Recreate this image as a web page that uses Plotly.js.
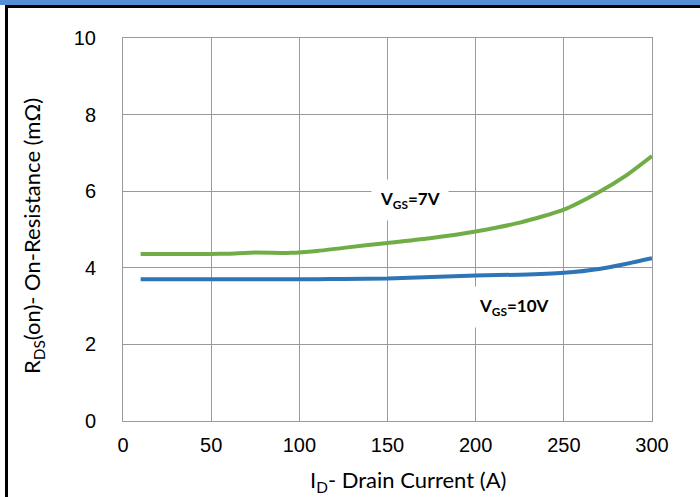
<!DOCTYPE html>
<html>
<head>
<meta charset="utf-8">
<script src="https://cdn.plot.ly/plotly-3.0.1.min.js"></script>
<style>html,body{margin:0;padding:0;background:#fff;}#chart{width:700px;height:497px;}</style>
</head>
<body>
<div id="chart"></div>
<script>
const currentA = [10, 30, 50, 60, 75, 95, 110, 125, 150, 175, 200, 225, 250, 270, 285, 300];
const rdsVgs7 = [4.36, 4.36, 4.36, 4.37, 4.40, 4.39, 4.44, 4.52, 4.65, 4.78, 4.95, 5.18, 5.52, 5.98, 6.40, 6.92];
const rdsVgs10 = [3.70, 3.70, 3.70, 3.70, 3.70, 3.70, 3.70, 3.71, 3.72, 3.76, 3.80, 3.82, 3.87, 3.97, 4.10, 4.25];
const xTicks = [0, 50, 100, 150, 200, 250, 300];
const yTicks = [0, 2, 4, 6, 8, 10];

const W = 700, H = 497, L = 123, R = 48, T = 38, B = 76;
const pw = W - L - R, ph = H - T - B;
const px = v => (v - L) / pw;
const py = v => (H - B - v) / ph;

const traces = [
  {x: currentA, y: rdsVgs7, mode: 'lines', line: {color: '#70AD47', width: 4, shape: 'spline', smoothing: 0.6}, hoverinfo: 'skip'},
  {x: currentA, y: rdsVgs10, mode: 'lines', line: {color: '#2E75B6', width: 4, shape: 'spline', smoothing: 0.6}, hoverinfo: 'skip'}
];

const tickFont = {family: 'Liberation Sans, Arial, sans-serif', size: 20, color: '#000'};
const titleFont = {family: 'Lato, Calibri, sans-serif', size: 22, color: '#000'};

const layout = {
  width: W, height: H,
  margin: {l: L, r: R, t: T, b: B, pad: 0},
  paper_bgcolor: '#fff', plot_bgcolor: '#fff',
  showlegend: false,
  xaxis: {
    range: [0, 300], tickvals: xTicks, ticktext: xTicks.map(String),
    showgrid: true, gridcolor: '#9a9a9a', gridwidth: 1,
    showline: true, linecolor: '#9a9a9a', linewidth: 1, mirror: true,
    zeroline: false, ticks: '', ticklabelstandoff: 6,
    tickfont: tickFont
  },
  yaxis: {
    range: [0, 10], tickvals: yTicks, ticktext: yTicks.map(String),
    showgrid: true, gridcolor: '#9a9a9a', gridwidth: 1,
    showline: true, linecolor: '#9a9a9a', linewidth: 1, mirror: true,
    zeroline: false, ticks: '', ticklabelstandoff: 22,
    tickfont: tickFont
  },
  annotations: [
    {x: px(408), y: py(481), xref: 'paper', yref: 'paper', xanchor: 'center', yanchor: 'middle',
     text: 'I<sub>D</sub>- Drain Current (A)', showarrow: false, font: titleFont},
    {x: px(33), y: py(236), xref: 'paper', yref: 'paper', xanchor: 'center', yanchor: 'middle', textangle: -90,
     text: 'R<sub>DS</sub>(on)- On-Resistance (mΩ)', showarrow: false, font: titleFont},
    {x: 163, y: 5.77, xref: 'x', yref: 'y', text: '<b>V<sub>GS</sub>=7V</b>', showarrow: false,
     font: {family: 'Lato, Calibri, sans-serif', size: 17, color: '#000'}, bgcolor: '#fff', borderpad: 8},
    {x: 222, y: 2.98, xref: 'x', yref: 'y', text: '<b>V<sub>GS</sub>=10V</b>', showarrow: false,
     font: {family: 'Lato, Calibri, sans-serif', size: 17, color: '#000'}, bgcolor: '#fff', borderpad: 8}
  ],
  shapes: [
    {type: 'rect', xref: 'paper', yref: 'paper', x0: px(0), x1: px(700), y0: py(5), y1: py(0), fillcolor: '#558ED5', line: {width: 0}, layer: 'above'},
    {type: 'rect', xref: 'paper', yref: 'paper', x0: px(5), x1: px(700), y0: py(8), y1: py(5), fillcolor: '#000', line: {width: 0}, layer: 'above'},
    {type: 'rect', xref: 'paper', yref: 'paper', x0: px(5), x1: px(8), y0: py(497), y1: py(5), fillcolor: '#000', line: {width: 0}, layer: 'above'}
  ]
};

Plotly.newPlot('chart', traces, layout, {staticPlot: true, displayModeBar: false});
</script>
</body>
</html>
